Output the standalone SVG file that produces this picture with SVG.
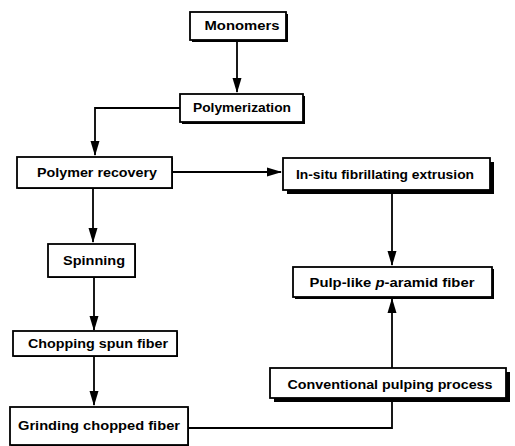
<svg xmlns="http://www.w3.org/2000/svg" width="515" height="446" viewBox="0 0 515 446">
<style>
.box{fill:#fff;stroke:#000;stroke-width:1.8}
.sh{fill:#000}
.t{font-family:"Liberation Sans",Arial,sans-serif;font-weight:bold;font-size:13px;text-anchor:middle;fill:#000}
.c{fill:none;stroke:#000;stroke-width:1.8}
</style>
<defs>
<marker id="ah" markerUnits="userSpaceOnUse" markerWidth="15" markerHeight="10" refX="14" refY="5" viewBox="0 0 15 10" orient="auto">
<path d="M0,0.5 L15,5 L0,9.5 Z" fill="#000"/>
</marker>
</defs>
<rect width="515" height="446" fill="#fff"/>
<g id="connectors">
<path class="c" d="M237,40 V92" marker-end="url(#ah)"/>
<path class="c" d="M180,108 H95 V155" marker-end="url(#ah)"/>
<path class="c" d="M172,172 H281" marker-end="url(#ah)"/>
<path class="c" d="M93,188 V242" marker-end="url(#ah)"/>
<path class="c" d="M94,277 V330" marker-end="url(#ah)"/>
<path class="c" d="M94,356 V405" marker-end="url(#ah)"/>
<path class="c" d="M392,192 V265" marker-end="url(#ah)"/>
<path class="c" d="M188,428 H392 V401"/>
<path class="c" d="M392,368 V299" marker-end="url(#ah)"/>
</g>
<g id="monomers">
<rect class="sh" x="192" y="14" width="96" height="28"/>
<rect class="box" x="190" y="12" width="96" height="28"/>
<text class="t" x="242" y="30" textLength="75" lengthAdjust="spacingAndGlyphs">Monomers</text>
</g>
<g id="polymerization">
<rect class="sh" x="182" y="96" width="123" height="28"/>
<rect class="box" x="180" y="94" width="123" height="28"/>
<text class="t" x="242" y="112" textLength="98" lengthAdjust="spacingAndGlyphs">Polymerization</text>
</g>
<g id="polymer-recovery">
<rect class="sh" x="18" y="158" width="155" height="31"/>
<rect class="box" x="17" y="157" width="155" height="31"/>
<text class="t" x="97" y="177" textLength="120" lengthAdjust="spacingAndGlyphs">Polymer recovery</text>
</g>
<g id="spinning">
<rect class="sh" x="49" y="245" width="87" height="33"/>
<rect class="box" x="48" y="244" width="87" height="33"/>
<text class="t" x="94" y="265" textLength="62" lengthAdjust="spacingAndGlyphs">Spinning</text>
</g>
<g id="chopping">
<rect class="sh" x="14" y="332" width="164" height="25"/>
<rect class="box" x="13" y="331" width="164" height="25"/>
<text class="t" x="98" y="348" textLength="140" lengthAdjust="spacingAndGlyphs">Chopping spun fiber</text>
</g>
<g id="grinding">
<rect class="sh" x="11" y="408" width="178" height="38"/>
<rect class="box" x="10" y="407" width="178" height="38"/>
<text class="t" x="99" y="430" textLength="162" lengthAdjust="spacingAndGlyphs">Grinding chopped fiber</text>
</g>
<g id="in-situ">
<rect class="sh" x="287" y="162" width="207" height="32"/>
<rect class="box" x="283" y="158" width="207" height="32"/>
<text class="t" x="385" y="179" textLength="178" lengthAdjust="spacingAndGlyphs">In-situ fibrillating extrusion</text>
</g>
<g id="pulp-like">
<rect class="sh" x="295" y="269" width="199" height="30"/>
<rect class="box" x="293" y="267" width="199" height="30"/>
<text class="t" x="392" y="287" textLength="165" lengthAdjust="spacingAndGlyphs">Pulp-like <tspan font-style="italic">p</tspan>-aramid fiber</text>
</g>
<g id="conventional">
<rect class="sh" x="274" y="372" width="236" height="30"/>
<rect class="box" x="270" y="368" width="236" height="30"/>
<text class="t" x="390" y="389" textLength="205" lengthAdjust="spacingAndGlyphs">Conventional pulping process</text>
</g>
</svg>
